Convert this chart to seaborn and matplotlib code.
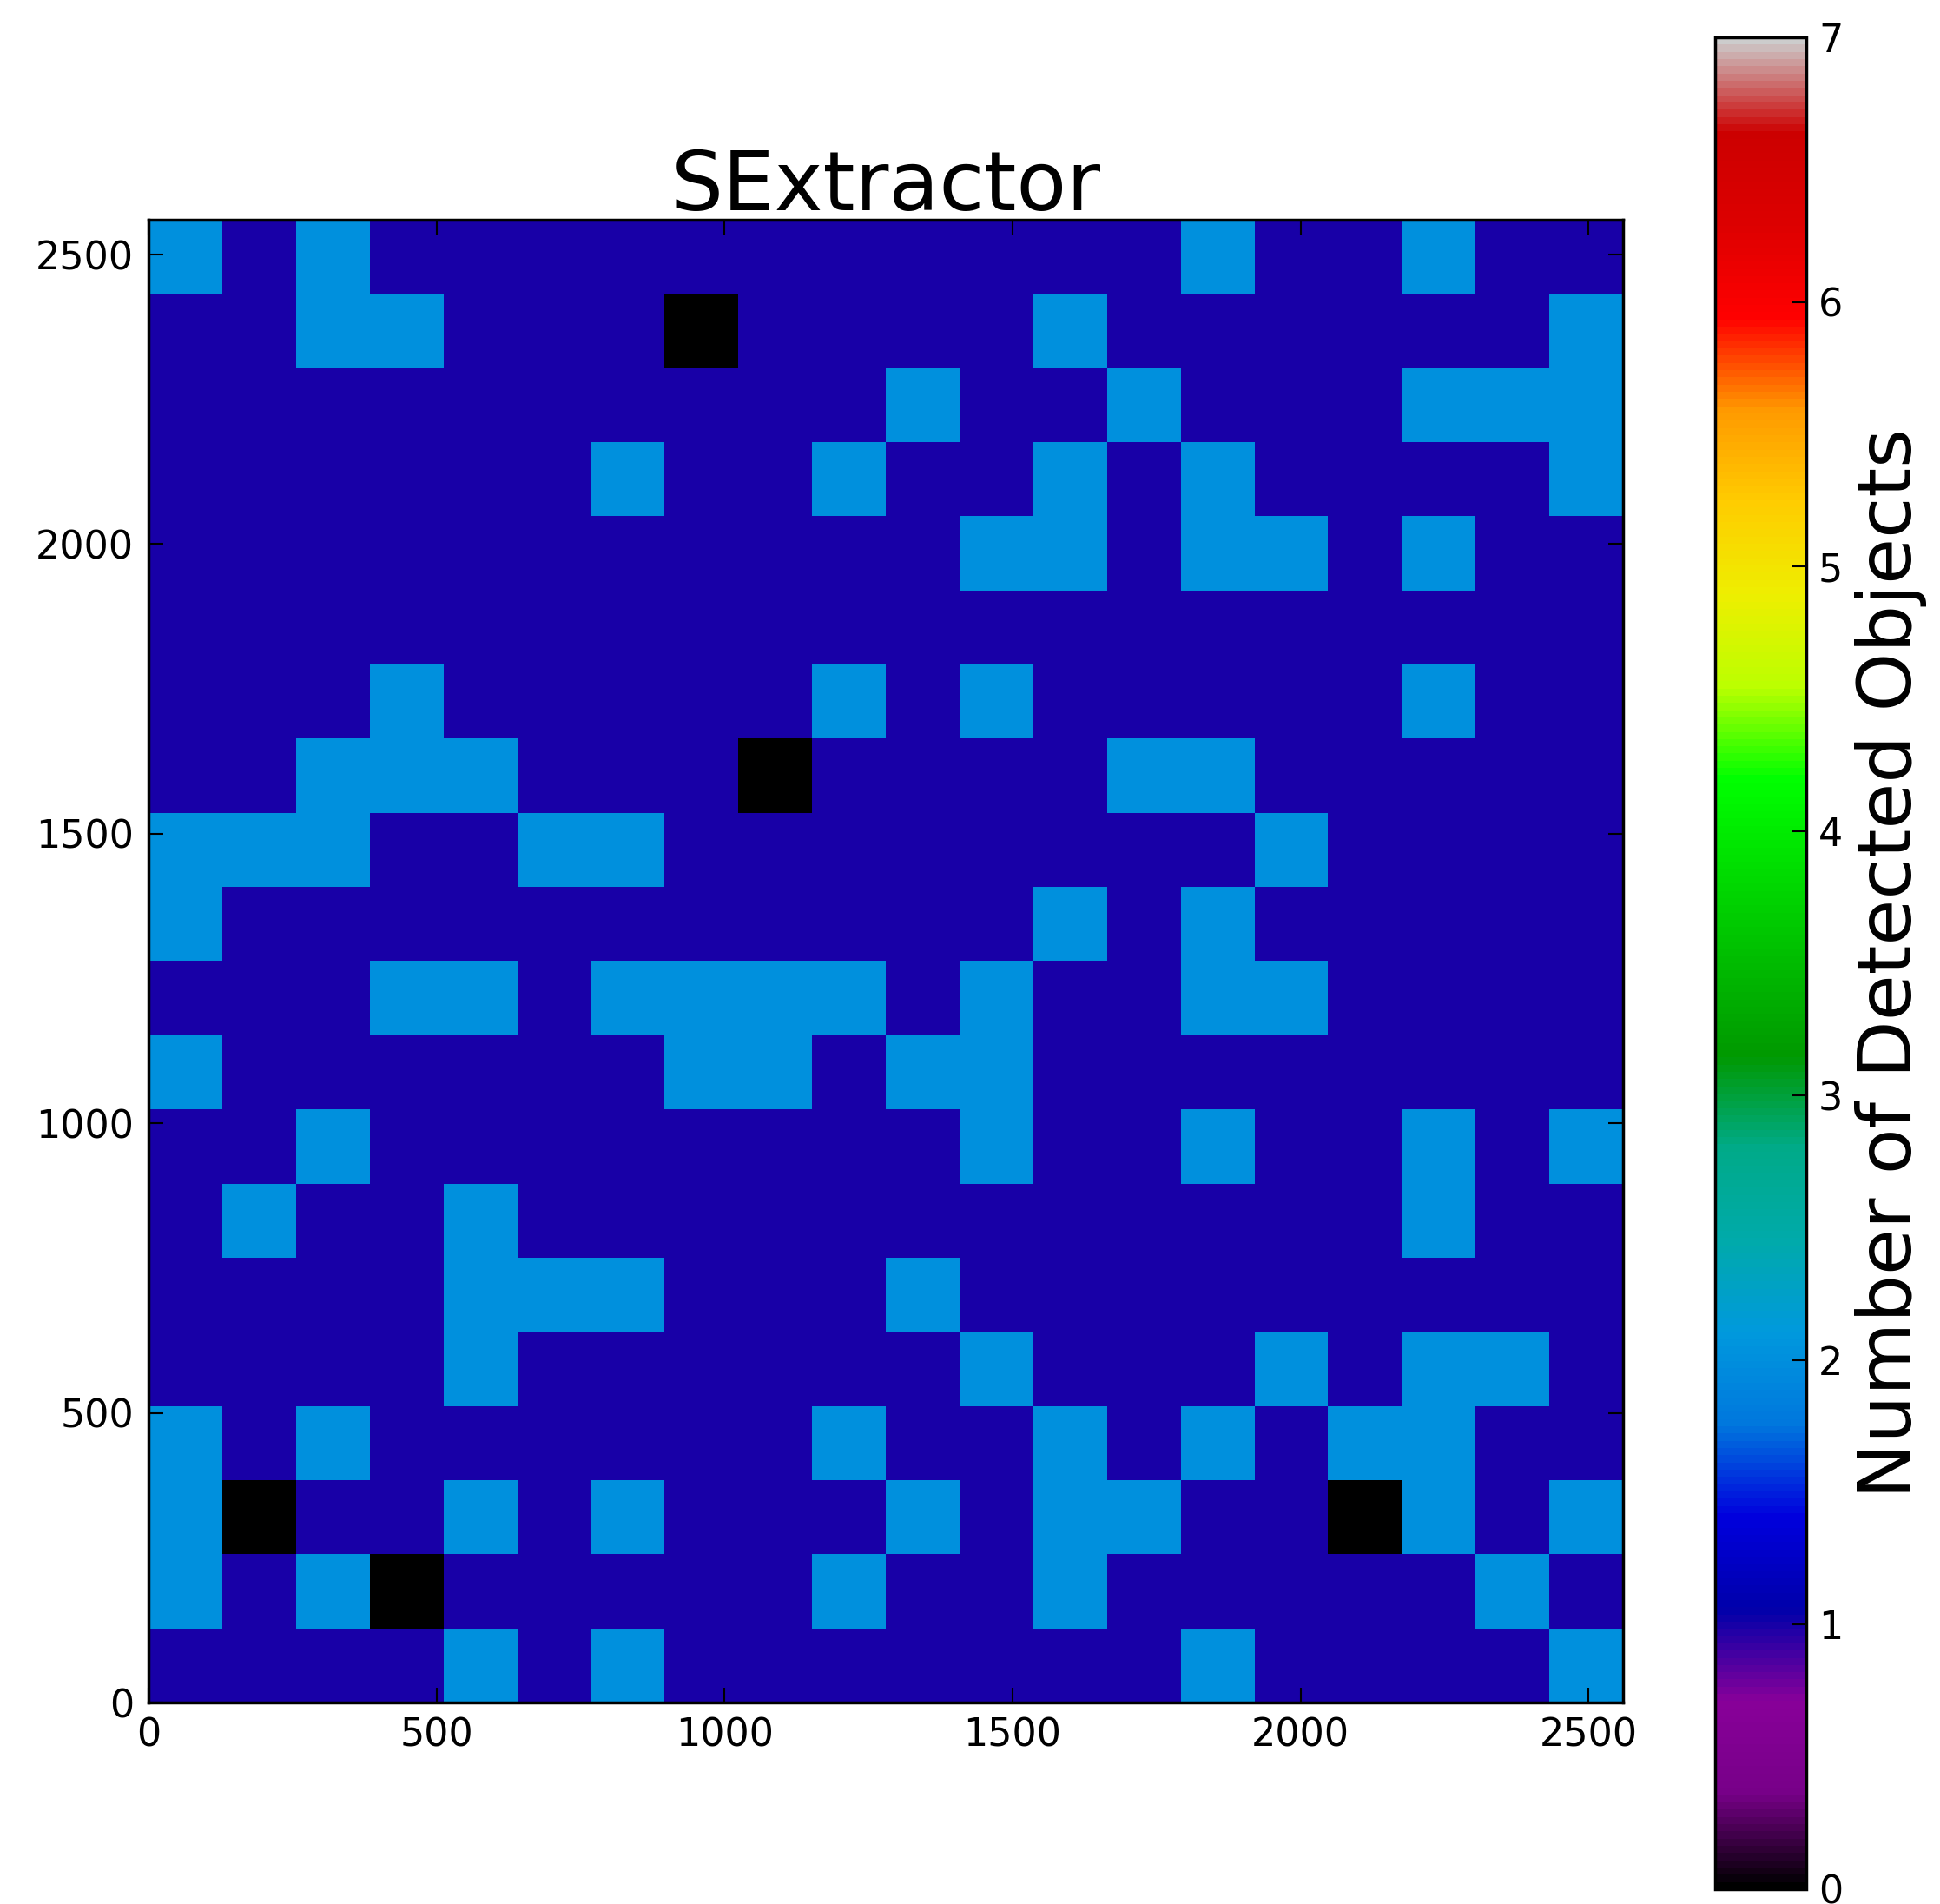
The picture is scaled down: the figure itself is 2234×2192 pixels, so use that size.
import numpy as np
import matplotlib
matplotlib.use('Agg')
import matplotlib.pyplot as plt
import seaborn as sns

# number of detected objects per 128x128 pixel cell, top row first
counts = [
    [2, 1, 2, 1, 1, 1, 1, 1, 1, 1, 1, 1, 1, 1, 2, 1, 1, 2, 1, 1],
    [1, 1, 2, 2, 1, 1, 1, 0, 1, 1, 1, 1, 2, 1, 1, 1, 1, 1, 1, 2],
    [1, 1, 1, 1, 1, 1, 1, 1, 1, 1, 2, 1, 1, 2, 1, 1, 1, 2, 2, 2],
    [1, 1, 1, 1, 1, 1, 2, 1, 1, 2, 1, 1, 2, 1, 2, 1, 1, 1, 1, 2],
    [1, 1, 1, 1, 1, 1, 1, 1, 1, 1, 1, 2, 2, 1, 2, 2, 1, 2, 1, 1],
    [1, 1, 1, 1, 1, 1, 1, 1, 1, 1, 1, 1, 1, 1, 1, 1, 1, 1, 1, 1],
    [1, 1, 1, 2, 1, 1, 1, 1, 1, 2, 1, 2, 1, 1, 1, 1, 1, 2, 1, 1],
    [1, 1, 2, 2, 2, 1, 1, 1, 0, 1, 1, 1, 1, 2, 2, 1, 1, 1, 1, 1],
    [2, 2, 2, 1, 1, 2, 2, 1, 1, 1, 1, 1, 1, 1, 1, 2, 1, 1, 1, 1],
    [2, 1, 1, 1, 1, 1, 1, 1, 1, 1, 1, 1, 2, 1, 2, 1, 1, 1, 1, 1],
    [1, 1, 1, 2, 2, 1, 2, 2, 2, 2, 1, 2, 1, 1, 2, 2, 1, 1, 1, 1],
    [2, 1, 1, 1, 1, 1, 1, 2, 2, 1, 2, 2, 1, 1, 1, 1, 1, 1, 1, 1],
    [1, 1, 2, 1, 1, 1, 1, 1, 1, 1, 1, 2, 1, 1, 2, 1, 1, 2, 1, 2],
    [1, 2, 1, 1, 2, 1, 1, 1, 1, 1, 1, 1, 1, 1, 1, 1, 1, 2, 1, 1],
    [1, 1, 1, 1, 2, 2, 2, 1, 1, 1, 2, 1, 1, 1, 1, 1, 1, 1, 1, 1],
    [1, 1, 1, 1, 2, 1, 1, 1, 1, 1, 1, 2, 1, 1, 1, 2, 1, 2, 2, 1],
    [2, 1, 2, 1, 1, 1, 1, 1, 1, 2, 1, 1, 2, 1, 2, 1, 2, 2, 1, 1],
    [2, 0, 1, 1, 2, 1, 2, 1, 1, 1, 2, 1, 2, 2, 1, 1, 0, 2, 1, 2],
    [2, 1, 2, 0, 1, 1, 1, 1, 1, 2, 1, 1, 2, 1, 1, 1, 1, 1, 2, 1],
    [1, 1, 1, 1, 2, 1, 2, 1, 1, 1, 1, 1, 1, 1, 2, 1, 1, 1, 1, 2],
]
cell_size = 128
x_ticks = [0, 500, 1000, 1500, 2000, 2500]
y_ticks = [0, 500, 1000, 1500, 2000, 2500]
cbar_ticks = [0, 1, 2, 3, 4, 5, 6, 7]

grid = np.array(counts[::-1])  # row 0 = bottom

W, H = 2234, 2192
fig = plt.figure(figsize=(W / 100, H / 100), dpi=100)
ax = fig.add_axes([171 / W, 1 - 1960 / H, (1869 - 171) / W, (1960 - 253) / H])
cax = fig.add_axes([1975 / W, 1 - 2175 / H, (2080 - 1975) / W, (2175 - 43) / H])

sns.heatmap(grid, ax=ax, cbar_ax=cax, cmap='nipy_spectral', vmin=0, vmax=7,
            xticklabels=False, yticklabels=False,
            cbar_kws={'ticks': cbar_ticks})

ax.set_xlim(0, grid.shape[1])
ax.set_ylim(0, grid.shape[0])
ax.set_xticks(np.array(x_ticks) / cell_size)
ax.set_xticklabels([str(t) for t in x_ticks])
ax.set_yticks(np.array(y_ticks) / cell_size)
ax.set_yticklabels([str(t) for t in y_ticks])
ax.tick_params(direction='in', length=12, width=1.5, labelsize=32, pad=12,
               top=True, right=True, bottom=True, left=True)
for s in ax.spines.values():
    s.set_visible(True)
    s.set_linewidth(2.5)
    s.set_color('black')
ax.set_title('SExtractor', fontsize=68, pad=8)

cbar = ax.collections[0].colorbar
cbar.outline.set_linewidth(2.5)
cbar.outline.set_edgecolor('black')
cax.tick_params(direction='in', length=12, width=1.5, labelsize=32, pad=10)
cbar.set_label('Number of Detected Objects', fontsize=62, labelpad=10)

fig.savefig('out.png', dpi=100)
